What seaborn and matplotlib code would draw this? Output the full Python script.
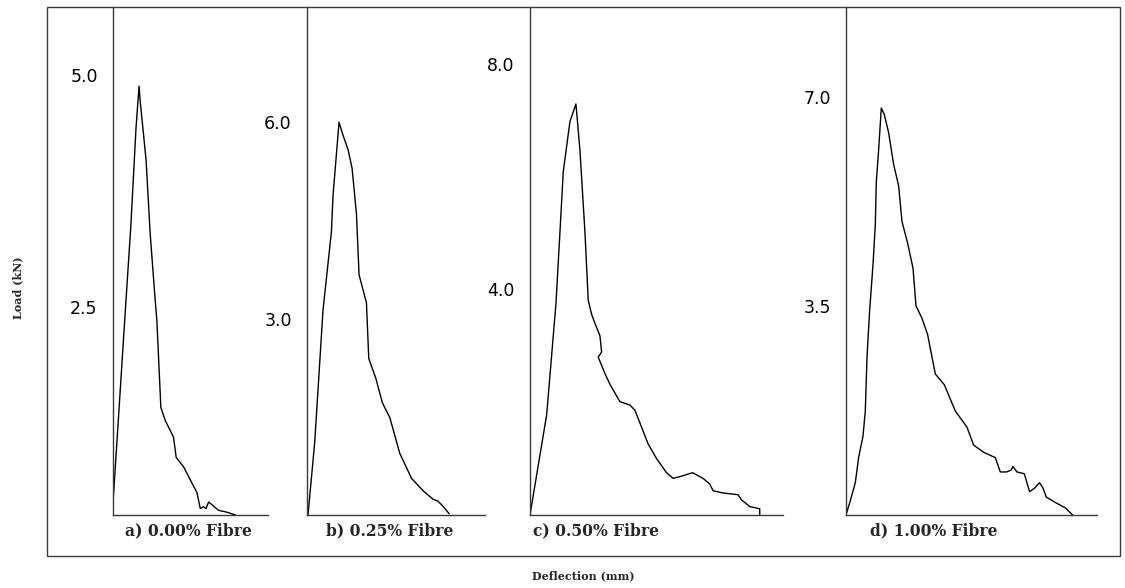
import matplotlib
matplotlib.use("Agg")
import matplotlib.pyplot as plt
import seaborn as sns
import pandas as pd
from matplotlib.patches import Rectangle

# ---------------- data ----------------
panel_titles = ["a) 0.00% Fibre", "b) 0.25% Fibre", "c) 0.50% Fibre", "d) 1.00% Fibre"]

defl_a = [0.006, 0.006, 0.26, 0.354, 0.46, 0.52, 0.54, 0.66, 0.74, 0.84,
          0.874, 0.954, 1.04, 1.206, 1.26, 1.406, 1.674, 1.74, 1.806, 1.854,
          1.906, 1.974, 2.106, 2.274, 2.44]
load_a = [0.26, 0.44, 2.58, 3.36, 4.44, 4.88, 4.73, 4.08, 3.30, 2.58,
          2.36, 1.42, 1.28, 1.10, 0.88, 0.78, 0.50, 0.33, 0.35, 0.33,
          0.40, 0.37, 0.31, 0.29, 0.26]

defl_b = [0.02, 0.154, 0.32, 0.488, 0.52, 0.64, 0.72, 0.82, 0.90, 0.988,
          1.04, 1.188, 1.234, 1.374, 1.508, 1.654, 1.854, 2.088, 2.32, 2.52,
          2.62, 2.72, 2.84]
load_b = [0.0, 1.11, 3.13, 4.33, 4.88, 6.00, 5.80, 5.58, 5.30, 4.60,
          3.67, 3.24, 2.39, 2.09, 1.71, 1.49, 0.94, 0.56, 0.37, 0.24,
          0.21, 0.13, 0.02]

defl_c = [0.0, 0.334, 0.52, 0.60, 0.666, 0.80, 0.92, 1.00, 1.10, 1.166,
          1.234, 1.30, 1.40, 1.434, 1.366, 1.50, 1.60, 1.80, 2.00, 2.10,
          2.366, 2.534, 2.734, 2.866, 3.00, 3.254, 3.466, 3.60, 3.666, 3.866,
          4.166, 4.234, 4.40, 4.60, 4.60]
load_c = [0.0, 1.78, 3.75, 5.02, 6.09, 6.98, 7.29, 6.47, 5.02, 3.81,
          3.56, 3.40, 3.18, 2.89, 2.80, 2.51, 2.32, 2.01, 1.95, 1.86,
          1.26, 1.00, 0.75, 0.65, 0.68, 0.75, 0.65, 0.55, 0.43, 0.39,
          0.36, 0.27, 0.15, 0.11, 0.0]

defl_d = [0.0, 0.086, 0.186, 0.252, 0.34, 0.386, 0.42, 0.472, 0.54, 0.586,
          0.606, 0.652, 0.706, 0.766, 0.852, 0.952, 1.052, 1.12, 1.232, 1.34,
          1.40, 1.52, 1.632, 1.786, 1.966, 2.186, 2.42, 2.552, 2.752, 2.986,
          3.086, 3.206, 3.30, 3.34, 3.42, 3.566, 3.672, 3.772, 3.872, 3.94,
          4.006, 4.186, 4.386, 4.532]
load_d = [0.0, 0.24, 0.54, 0.96, 1.32, 1.74, 2.64, 3.41, 4.19, 4.85,
          5.57, 6.10, 6.81, 6.70, 6.40, 5.87, 5.51, 4.91, 4.55, 4.13,
          3.50, 3.29, 3.02, 2.36, 2.18, 1.74, 1.47, 1.17, 1.05, 0.96,
          0.72, 0.72, 0.75, 0.81, 0.72, 0.69, 0.39, 0.45, 0.54, 0.45,
          0.30, 0.21, 0.12, 0.0]

yticks_a = [2.5, 5.0]
yticks_b = [3.0, 6.0]
yticks_c = [4.0, 8.0]
yticks_d = [3.5, 7.0]

ylims = [(0.26, 5.733), (0.0, 7.76), (0.0, 9.01), (0.0, 8.50)]
xlims = [(0.0, 3.09), (0.0, 3.556), (0.0, 5.066), (0.0, 5.02)]

y_label = "Load (kN)"
x_label = "Deflection (mm)"

# ---------------- styling ----------------
sns.set_theme(style="white")
plt.rcParams['font.family'] = ['DejaVu Sans']

W, H = 1125, 588
fig = plt.figure(figsize=(W / 100, H / 100), dpi=100)
fig.patch.set_facecolor("white")

def box(x0, x1, y0, y1):
    return [x0 / W, 1 - y1 / H, (x1 - x0) / W, (y1 - y0) / H]

panel_px = [(113, 268), (307, 485), (530, 783), (846, 1097)]
title_pos = [(0.484, "center"), (0.466, "center"), (0.01, "left"), (0.35, "center")]

series = [(defl_a, load_a, yticks_a), (defl_b, load_b, yticks_b),
          (defl_c, load_c, yticks_c), (defl_d, load_d, yticks_d)]

axis_col = "#3a3a3a"
for i, ((dx, ld, yt), (x0, x1)) in enumerate(zip(series, panel_px)):
    ax = fig.add_axes(box(x0, x1, 7, 515))
    df = pd.DataFrame({"Deflection": dx, "Load": ld})
    sns.lineplot(data=df, x="Deflection", y="Load", sort=False, estimator=None,
                 color="black", linewidth=1.0, ax=ax)
    ax.set_xlim(*xlims[i])
    ax.set_ylim(*ylims[i])
    ax.set_facecolor("none")
    for s in ["top", "right"]:
        ax.spines[s].set_visible(False)
    for s in ["left", "bottom"]:
        ax.spines[s].set_color(axis_col)
        ax.spines[s].set_linewidth(1.0)
    ax.set_xticks([])
    ax.set_yticks(yt)
    ax.set_yticklabels([f"{v:.1f}" for v in yt])
    ax.tick_params(axis="y", direction="out", length=2, width=2, color="black",
                   labelsize=12.5, pad=9, labelcolor="black")
    ax.set_xlabel("")
    ax.set_ylabel("")
    tx, ha = title_pos[i]
    ax.text(tx, -0.0315, panel_titles[i], transform=ax.transAxes, ha=ha, va="center",
            fontsize=11.2, fontweight="bold", family=["DejaVu Serif"])

# outer frame
fig.patches.append(Rectangle((47 / W, 1 - 556 / H), (1120 - 47) / W, (556 - 7) / H,
                             transform=fig.transFigure, fill=False,
                             edgecolor=axis_col, linewidth=1.0))

fig.text(18 / W, 1 - 288 / H, y_label, rotation=90, ha="center", va="center",
         fontsize=8, fontweight="bold", family=["DejaVu Serif"])
fig.text(583 / W, 1 - 576 / H, x_label, ha="center", va="center",
         fontsize=8, fontweight="bold", family=["DejaVu Serif"])

fig.savefig("out.png", dpi=100, facecolor="white")
